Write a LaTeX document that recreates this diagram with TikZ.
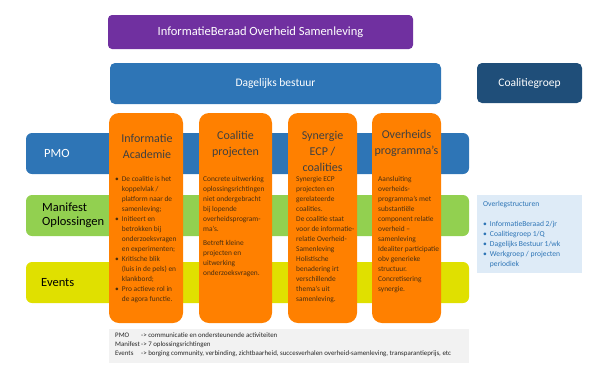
\documentclass[tikz,border=0pt]{standalone}
\usepackage{fontspec}
\setmainfont{Carlito}
\usetikzlibrary{calc}
\definecolor{ibpurple}{HTML}{7030A0}
\definecolor{dbblue}{HTML}{2E75B6}
\definecolor{cgnavy}{HTML}{1F4E79}
\definecolor{mfgreen}{HTML}{92D050}
\definecolor{evyellow}{HTML}{E0E000}
\definecolor{ecporange}{HTML}{FF8000}
\definecolor{titlegray}{HTML}{404040}
\definecolor{bodybrown}{HTML}{4A2E10}
\definecolor{olblue}{HTML}{DEEBF7}
\definecolor{notegray}{HTML}{F2F2F2}

\begin{document}
\begin{tikzpicture}[x=1pt, y=-1pt,
	band/.style={rectangle, rounded corners=6pt, minimum width=443pt, minimum height=41pt, inner sep=0pt},
	colbox/.style={rectangle, rounded corners=10pt, fill=ecporange, minimum height=210pt, inner sep=0pt},
	ctitle/.style={align=center, text=titlegray, font=\fontsize{12}{16}\selectfont, inner sep=0pt},
	cbody/.style={align=left, anchor=north west, text=bodybrown, font=\fontsize{7.4}{10}\selectfont, inner sep=0pt},
	blabel/.style={anchor=west, align=left, font=\fontsize{12.5}{14}\selectfont, inner sep=0pt}]
	\useasboundingbox (0,0) rectangle (616,376);
	\coordinate (ibos) at (260.5,32);
	\coordinate (db) at (275.5,83.5);
	\coordinate (cg) at (529.5,83);
	\coordinate (pmo) at (247.5,153.5);
	\coordinate (mf) at (247.5,215.5);
	\coordinate (ev) at (247.5,282.5);
	\coordinate (c1) at (146,218);
	\coordinate (c2) at (235.5,218);
	\coordinate (c3) at (322.5,218);
	\coordinate (c4) at (406.5,218);
	\coordinate (ol) at (529.5,234);
	\coordinate (nt) at (289,346);
	% bands
	\path (pmo) node (pmoband) [band, fill=dbblue] {};
	\path (mf) node (mfband) [band, fill=mfgreen] {};
	\path (ev) node (evband) [band, fill=evyellow] {};
	\path (44,153.5) node (pmolabel) [blabel, text=white] {PMO};
	\path (42,215.5) node (mflabel) [blabel] {Manifest\\Oplossingen};
	\path (41,282.5) node (evlabel) [blabel] {Events};
	% columns
	\path (c1) node (col1) [colbox, minimum width=74pt] {};
	\path (c2) node (col2) [colbox, minimum width=73pt] {};
	\path (c3) node (col3) [colbox, minimum width=69pt] {};
	\path (c4) node (col4) [colbox, minimum width=69pt] {};
	\path (147,146) node (t1) [ctitle] {Informatie\\Academie};
	\path (235.5,144) node (t2) [ctitle] {Coalitie\\projecten};
	\path (322.5,151) node (t3) [ctitle] {Synergie\\ECP /\\coalities};
	\path (406.5,143) node (t4) [ctitle] {Overheids\\programma’s};
	\path (115,174) node (b1) [cbody] {\begin{tabular}{@{}l@{\hspace{3pt}}l@{}}
		\textbullet & De coalitie is het\\ & koppelvlak /\\ & platform naar de\\ & samenleving;\\
		\textbullet & Initieert en\\ & betrokken bij\\ & onderzoeksvragen\\ & en experimenten;\\
		\textbullet & Kritische blik\\ & (luis in de pels) en\\ & klankbord;\\
		\textbullet & Pro actieve rol in\\ & de agora functie.\end{tabular}};
	\path (203,174) node (b2) [cbody] {\begin{tabular}{@{}l@{}}
		Concrete uitwerking\\ oplossingsrichtingen\\ niet ondergebracht\\ bij lopende\\ overheidsprogram-\\ ma’s.\\[4pt]
		Betreft kleine\\ projecten en\\ uitwerking\\ onderzoeksvragen.\end{tabular}};
	\path (296,174) node (b3) [cbody] {\begin{tabular}{@{}l@{}}
		Synergie ECP\\ projecten en\\ gerelateerde\\ coalities.\\ De coalitie staat\\ voor de informatie-\\ relatie Overheid-\\ Samenleving\\
		Holistische\\ benadering irt\\ verschillende\\ thema’s uit\\ samenleving.\end{tabular}};
	\path (378,174) node (b4) [cbody] {\begin{tabular}{@{}l@{}}
		Aansluiting\\ overheids-\\ programma’s met\\ substantiële\\ component relatie\\ overheid –\\ samenleving\\
		Idealiter participatie\\ obv generieke\\ structuur.\\ Concretisering\\ synergie.\end{tabular}};
	% top boxes
	\path (ibos) node (ibosbox) [rectangle, rounded corners=4pt, fill=ibpurple, minimum width=305pt, minimum height=34pt, text=white, font=\fontsize{12.5}{14}\selectfont] {InformatieBeraad Overheid Samenleving};
	\path (db) node (dbbox) [rectangle, rounded corners=5pt, fill=dbblue, minimum width=331pt, minimum height=41pt, text=white, font=\fontsize{11.5}{14}\selectfont] {Dagelijks bestuur};
	\path (cg) node (cgbox) [rectangle, rounded corners=5pt, fill=cgnavy, minimum width=105pt, minimum height=40pt, text=white, font=\fontsize{11.5}{14}\selectfont] {Coalitiegroep};
	% overleg
	\path (ol) node (olbox) [rectangle, fill=olblue, minimum width=105pt, minimum height=78pt, inner sep=0pt] {};
	\path (483,199) node (oltext) [cbody, text=dbblue, font=\fontsize{7.6}{10}\selectfont] {\begin{tabular}{@{}l@{\hspace{3pt}}l@{}}
		\multicolumn{2}{@{}l@{}}{Overlegstructuren}\\[10pt]
		\textbullet & InformatieBeraad 2/jr\\ \textbullet & Coalitiegroep 1/Q\\ \textbullet & Dagelijks Bestuur 1/wk\\
		\textbullet & Werkgroep / projecten\\ & periodiek\end{tabular}};
	% notes
	\path (nt) node (ntbox) [rectangle, fill=notegray, minimum width=360pt, minimum height=34pt, inner sep=0pt] {};
	\path (115,331) node (nttext) [cbody, text=black!85, font=\fontsize{6.9}{9}\selectfont] {\begin{tabular}{@{}p{26pt}@{}l@{}}
		PMO & -> communicatie en ondersteunende activiteiten\\
		Manifest & -> 7 oplossingsrichtingen\\
		Events & -> borging community, verbinding, zichtbaarheid, succesverhalen overheid-samenleving, transparantieprijs, etc\end{tabular}};
\end{tikzpicture}
\end{document}
